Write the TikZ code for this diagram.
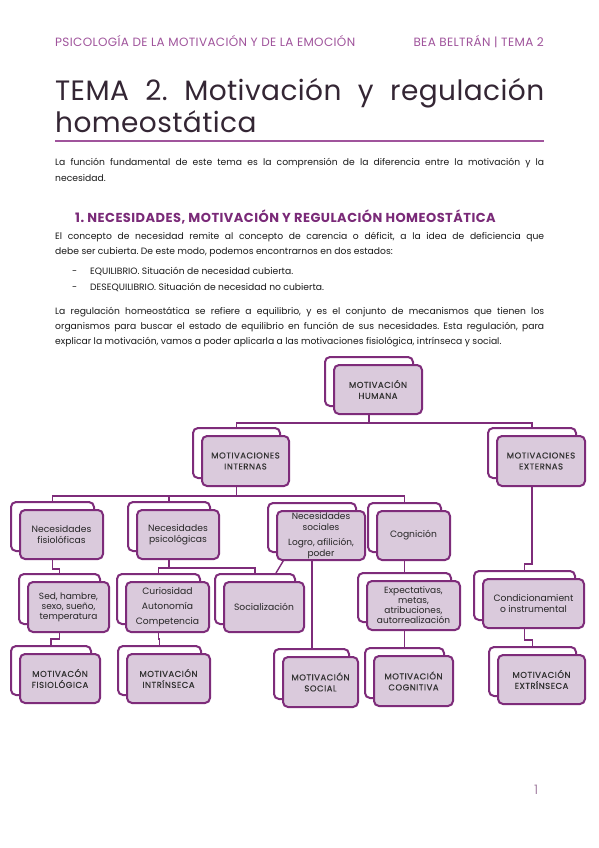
\documentclass[tikz,border=0pt]{standalone}
\usepackage{fontspec}
\setmainfont{Poppins}
\usetikzlibrary{positioning,calc,backgrounds}

\definecolor{lila}{RGB}{126,44,122}
\definecolor{lilafill}{RGB}{218,202,220}
\definecolor{headink}{RGB}{160,84,156}
\definecolor{titleink}{RGB}{52,38,52}
\definecolor{secink}{RGB}{122,42,120}

\begin{document}
\frenchspacing
\begin{tikzpicture}[
  x=1pt, y=-1pt,
  back/.style={rectangle, draw=lila, line width=2pt, rounded corners=5pt, fill=white, anchor=north west, inner sep=0pt},
  front/.style={rectangle, draw=lila, line width=2pt, rounded corners=5pt, fill=lilafill, anchor=north west, align=center, inner sep=1pt, text=black!85, font=\fontsize{9.2}{11}\selectfont},
  motiv/.style={front, text=black!80, font=\fontsize{8.5}{11}\selectfont\addfontfeature{LetterSpace=6,FakeBold=0.5}},
  link/.style={draw=lila, line width=1.4pt},
  body/.style={anchor=base west, inner sep=0pt, text=black!90, font=\fontsize{9.2}{11}\selectfont}
]
  \useasboundingbox (0,0) rectangle (599,848);

  % page text
  \node[body, text=headink, font=\fontsize{12}{14}\selectfont\addfontfeature{LetterSpace=3}] (hdl) at (55,47) {PSICOLOGÍA DE LA MOTIVACIÓN Y DE LA EMOCIÓN};
  \node[body, anchor=base east, text=headink, font=\fontsize{12}{14}\selectfont\addfontfeature{LetterSpace=3}] (hdr) at (544,47) {BEA BELTRÁN | TEMA 2};
  \node[body, text=titleink, font=\fontsize{28}{30}\selectfont\addfontfeature{LetterSpace=1.5}] (tit1) at (55,101) {\makebox[489pt][s]{TEMA 2. Motivación y regulación}};
  \node[body, text=titleink, font=\fontsize{28}{30}\selectfont\addfontfeature{LetterSpace=1.5}] (tit2) at (55,132) {homeostática};
  \draw[headink, line width=1.2pt] (55,141) coordinate (ul1) -- (544,141) coordinate (ul2);

  \node[body] (p1a) at (55,165) {\makebox[489pt][s]{La función fundamental de este tema es la comprensión de la diferencia entre la motivación y la}};
  \node[body] (p1b) at (55,181) {necesidad.};

  \node[body, text=secink, font=\fontsize{13}{15}\selectfont\bfseries\addfontfeature{LetterSpace=3.5}] (sec) at (75,222) {1. NECESIDADES, MOTIVACIÓN Y REGULACIÓN HOMEOSTÁTICA};

  \node[body] (p2a) at (55,239) {\makebox[489pt][s]{El concepto de necesidad remite al concepto de carencia o déficit, a la idea de deficiencia que}};
  \node[body] (p2b) at (55,254) {debe ser cubierta. De este modo, podemos encontrarnos en dos estados:};
  \node[body] (d1) at (72,274) {-};
  \node[body] (b1) at (90,274) {EQUILIBRIO. Situación de necesidad cubierta.};
  \node[body] (d2) at (72,290) {-};
  \node[body] (b2) at (90,290) {DESEQUILIBRIO. Situación de necesidad no cubierta.};

  \node[body] (p3a) at (55,314) {\makebox[489pt][s]{La regulación homeostática se refiere a equilibrio, y es el conjunto de mecanismos que tienen los}};
  \node[body] (p3b) at (55,329) {\makebox[489pt][s]{organismos para buscar el estado de equilibrio en función de sus necesidades. Esta regulación, para}};
  \node[body] (p3c) at (55,344) {explicar la motivación, vamos a poder aplicarla a las motivaciones fisiológica, intrínseca y social.};

  \node[body, text=headink!70!black!60, font=\fontsize{13}{15}\selectfont] (pnum) at (534,794) {1};

  % level 1
  \node[back, minimum width=88, minimum height=49] (mh0) at (324,356) {};
  \node[motiv, minimum width=88, minimum height=49] (mh) at (333,364) {MOTIVACIÓN\\HUMANA};

  % level 2
  \node[back, minimum width=87, minimum height=50] (mi0) at (192,427) {};
  \node[motiv, minimum width=87, minimum height=50] (mi) at (201,435) {MOTIVACIONES\\INTERNAS};
  \node[back, minimum width=88, minimum height=50] (me0) at (487,427) {};
  \node[motiv, minimum width=88, minimum height=50] (me) at (496,435) {MOTIVACIONES\\EXTERNAS};

  % level 3
  \node[back, minimum width=83, minimum height=49] (nf0) at (10,501) {};
  \node[front, minimum width=83, minimum height=49] (nf) at (19,509) {Necesidades\\fisiolóficas};
  \node[back, minimum width=82, minimum height=49] (np0) at (127,501) {};
  \node[front, minimum width=82, minimum height=49] (np) at (136,509) {Necesidades\\psicológicas};
  \node[back, minimum width=88, minimum height=49] (ns0) at (267,502) {};
  \node[front, minimum width=88, minimum height=49, font=\fontsize{9}{11}\selectfont] (ns) at (276,510) {Necesidades\\sociales\\[4pt]Logro, afilición,\\poder};
  \node[back, minimum width=73, minimum height=49] (cg0) at (367,502) {};
  \node[front, minimum width=73, minimum height=49] (cg) at (376,510) {Cognición};
  \node[back, minimum width=101, minimum height=49] (ci0) at (473,570) {};
  \node[front, minimum width=101, minimum height=49] (ci) at (482,578) {Condicionamient\\o instrumental};

  % level 4
  \node[back, minimum width=81, minimum height=50] (sh0) at (18,573) {};
  \node[front, minimum width=81, minimum height=50, font=\fontsize{9}{10}\selectfont] (sh) at (27,581) {Sed, hambre,\\sexo, sueño,\\temperatura};
  \node[back, minimum width=83, minimum height=50] (cu0) at (116,573) {};
  \node[front, minimum width=83, minimum height=50] (cu) at (125,581) {Curiosidad\\[4pt]Autonomía\\[4pt]Competencia};
  \node[back, minimum width=80, minimum height=50] (so0) at (214,573) {};
  \node[front, minimum width=80, minimum height=50] (so) at (223,581) {Socialización};
  \node[back, minimum width=93, minimum height=49] (ex0) at (357,572) {};
  \node[front, minimum width=93, minimum height=49, font=\fontsize{9}{10}\selectfont] (ex) at (366,580) {Expectativas,\\metas,\\atribuciones,\\autorrealización};

  % level 5
  \node[back, minimum width=80, minimum height=49] (mf0) at (10,645) {};
  \node[motiv, minimum width=80, minimum height=49] (mf) at (19,653) {MOTIVACÓN\\FISIOLÓGICA};
  \node[back, minimum width=83, minimum height=49] (mn0) at (117,645) {};
  \node[motiv, minimum width=83, minimum height=49] (mn) at (126,653) {MOTIVACIÓN\\INTRÍNSECA};
  \node[back, minimum width=75, minimum height=50] (ms0) at (273,648) {};
  \node[motiv, minimum width=75, minimum height=50] (ms) at (282,656) {MOTIVACIÓN\\SOCIAL};
  \node[back, minimum width=79, minimum height=50] (mc0) at (364,647) {};
  \node[motiv, minimum width=79, minimum height=50] (mc) at (373,655) {MOTIVACIÓN\\COGNITIVA};
  \node[back, minimum width=87, minimum height=49] (mx0) at (488,646) {};
  \node[motiv, minimum width=87, minimum height=49] (mx) at (497,654) {MOTIVACIÓN\\EXTRÍNSECA};

  \begin{pgfonlayer}{background}
    \fill[white] (0,0) rectangle (599,848);
    \draw[link] (mh0.south) -- ++(0,16) -| (mi0.north);
    \draw[link] (mh0.south) -- ++(0,16) -| (me0.north);
    \draw[link] (mi0.south) -- ++(0,17) -| (nf0.north);
    \draw[link] (mi0.south) -- ++(0,17) -| (np0.north);
    \draw[link] (mi0.south) -- ++(0,17) -| (cg0.north);
    \draw[link] (me0.south) -- ++(0,85) -| (ci0.north);
    \draw[link] (nf0.south) -- ++(0,17) -| (sh0.north);
    \draw[link] (np0.south) -- ++(0,16) -| (cu0.north);
    \draw[link] (np0.south) -- ++(0,16) -| (so0.north);
    \draw[link] ($(ns0.south west)+(21,0)$) -- ($(so0.north west)+(62,0)$);
    \draw[link] (ns0.south) -- (ns0.south |- ms0.north);
    \draw[link] (cg0.south) -- (cg0.south |- ex0.north);
    \draw[link] (sh0.south) -- ++(0,14) -| (mf0.north);
    \draw[link] (cu0.south) -- ++(0,14) -| (mn0.north);
    \draw[link] (ex0.south) -- (ex0.south |- mc0.north);
    \draw[link] (ci0.south) -- ++(0,19) -| (mx0.north);
  \end{pgfonlayer}
\end{tikzpicture}
\end{document}
